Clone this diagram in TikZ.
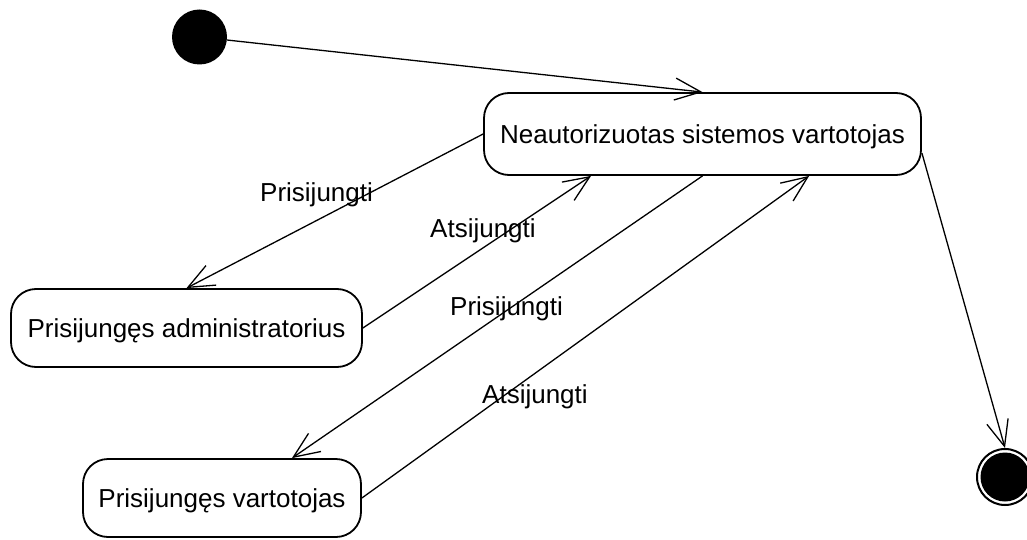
\documentclass[tikz,border=0pt]{standalone}
\usepackage{fontspec}
\setmainfont{Liberation Sans}
\usetikzlibrary{arrows.meta,calc}
\begin{document}
\begin{tikzpicture}[x=1pt,y=-1pt,
  state/.style={draw, line width=1.8pt, rounded corners=25pt, inner sep=0pt, text depth=0pt, font=\fontsize{26}{31}\selectfont},
  lbl/.style={inner sep=0pt, anchor=base west, font=\fontsize{26}{31}\selectfont},
  flow/.style={line width=1.3pt, -{Straight Barb[length=26pt,width=22pt]}}]
\useasboundingbox (0,0) rectangle (1027,540);
\clip (0,0) rectangle (1027,540);
\node[circle, fill, minimum size=55pt, inner sep=0pt] (init) at (199.5,37) {};
\node[state, minimum width=437pt, minimum height=82pt] (neaut) at (702.5,134) {Neautorizuotas sistemos vartotojas};
\node[state, minimum width=351pt, minimum height=78pt] (admin) at (186.5,328) {Prisijungęs administratorius};
\node[state, minimum width=278pt, minimum height=78pt] (vart) at (222,498) {Prisijungęs vartotojas};
\node[circle, draw, line width=2pt, minimum size=56pt, inner sep=0pt] (final) at (1005,477) {};
\node[circle, fill, minimum size=49pt, inner sep=0pt] (finalin) at (final.center) {};
\coordinate (nA) at ($(neaut.south west)!0.246!(neaut.south east)$);
\coordinate (nB) at ($(neaut.south west)!0.743!(neaut.south east)$);
\coordinate (vT) at ($(vart.north west)!0.75!(vart.north east)$);
\coordinate (nR) at ($(neaut.east)+(0,19)$);
\draw[flow] (init) -- (neaut.north);
\draw[flow] (neaut.west) -- (admin.north);
\draw[flow] (admin.east) -- (nA);
\draw[flow] (neaut.south) -- (vT);
\draw[flow] (vart.east) -- (nB);
\draw[flow] (nR) -- (final.north);
\node[lbl] (l1) at (260,201) {Prisijungti};
\node[lbl] (l2) at (430,237) {Atsijungti};
\node[lbl] (l3) at (450,315) {Prisijungti};
\node[lbl] (l4) at (482,403) {Atsijungti};
\end{tikzpicture}
\end{document}
